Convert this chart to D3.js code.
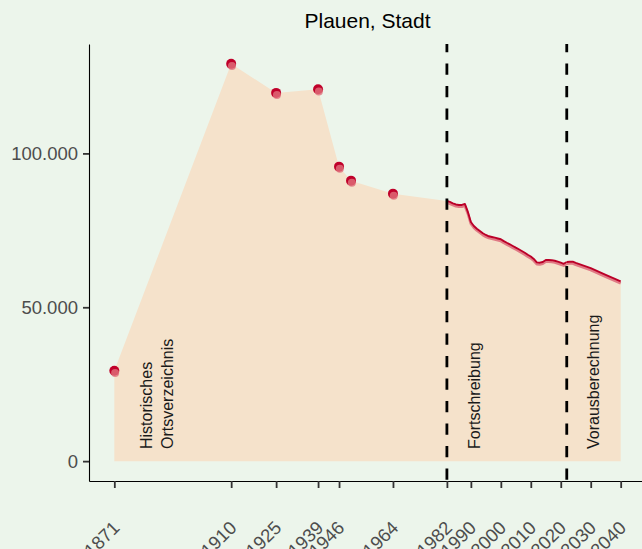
<!DOCTYPE html>
<html>
<head>
<meta charset="utf-8">
<script src="https://cdn.jsdelivr.net/npm/d3@7"></script>
<style>
  html, body { margin: 0; padding: 0; background: #ecf5eb; }
  svg { display: block; font-family: "Liberation Sans", Arial, sans-serif; }
</style>
</head>
<body>
<svg id="chart" width="642" height="549"></svg>
<script>
// ---- data ----
const title = "Plauen, Stadt";
// historical census points (Historisches Ortsverzeichnis)
const histYears  = [1871, 1910, 1925, 1939, 1946, 1950, 1964];
const histValues = [29370, 129100, 119670, 120870, 95700, 91150, 86930];
// annual updates (Fortschreibung)
const fortYears = [1982,1983,1984,1985,1986,1987,1988,1989,1990,1991,1992,1993,1994,1995,1996,1997,1998,1999,2000,2001,2002,2003,2004,2005,2006,2007,2008,2009,2010,2011,2012,2013,2014,2015,2016,2017,2018,2019,2020,2021,2022];
const fortValues = [84550,84230,83800,83410,83250,83250,83580,80980,77720,76420,75540,74800,74050,73500,73070,72850,72620,72360,72100,71480,70960,70470,69920,69370,68850,68290,67710,67060,66500,65690,64590,64490,64720,65370,65370,65300,65110,64810,64490,64130,64720];
// projection (Vorausberechnung)
const projYears  = [2022, 2023, 2024, 2025, 2030, 2035, 2040];
const projValues = [64720, 64810, 64810, 64400, 62700, 60500, 58400];
// section breaks and labels
const breakYears = [1982, 2022];
const sectionLabels = [["Historisches", "Ortsverzeichnis"], ["Fortschreibung"], ["Vorausberechnung"]];
// axis ticks
const xTicks = [1871, 1910, 1925, 1939, 1946, 1964, 1982, 1990, 2000, 2010, 2020, 2030, 2040];
const yTicks = [0, 50000, 100000];

// ---- layout ----
const svg = d3.select("#chart");
const W = 642, H = 549;
const panel = { left: 89, right: 646, top: 44, bottom: 481 };

svg.append("rect").attr("width", W).attr("height", H).attr("fill", "#ecf5eb");

const xMin = 1871, xMax = 2040, xPad = (xMax - xMin) * 0.05;
const x = d3.scaleLinear().domain([xMin - xPad, xMax + xPad]).range([panel.left, panel.right]);
const yMax = d3.max(histValues), yPad = yMax * 0.05;
const y = d3.scaleLinear().domain([0 - yPad, yMax + yPad]).range([panel.bottom, panel.top]);

const hist = histYears.map((d, i) => ({ year: d, value: histValues[i] }));
const fort = fortYears.map((d, i) => ({ year: d, value: fortValues[i] }));
const proj = projYears.map((d, i) => ({ year: d, value: projValues[i] }));
const all = hist.concat(fort).concat(proj.slice(1));

// area
const area = d3.area().x(d => x(d.year)).y0(y(0)).y1(d => y(d.value));
svg.append("path").datum(all).attr("d", area).attr("fill", "#f5e2cb");

// lines (light shadow + dark)
const line = d3.line().x(d => x(d.year)).y(d => y(d.value));
[fort, proj].forEach(series => {
  svg.append("path").datum(series).attr("d", line)
    .attr("fill", "none").attr("stroke", "#e07a85").attr("stroke-width", 2.6)
    .attr("stroke-linejoin", "round").attr("transform", "translate(0,1.8)");
  svg.append("path").datum(series).attr("d", line)
    .attr("fill", "none").attr("stroke", "#bb0028").attr("stroke-width", 1.9)
    .attr("stroke-linejoin", "round");
});

// points
svg.append("g").selectAll("circle.dark").data(hist).join("circle")
  .attr("cx", d => x(d.year)).attr("cy", d => y(d.value)).attr("r", 5)
  .attr("fill", "#c0002a");
svg.append("g").selectAll("circle.light").data(hist).join("circle")
  .attr("cx", d => x(d.year) + 0.8).attr("cy", d => y(d.value) + 2.2).attr("r", 4)
  .attr("fill", "#e0707c").attr("opacity", 0.8);

// dashed break lines
svg.append("g").selectAll("line").data(breakYears).join("line")
  .attr("x1", d => x(d)).attr("x2", d => x(d))
  .attr("y1", panel.bottom).attr("y2", panel.top)
  .attr("stroke", "#000").attr("stroke-width", 2.8)
  .attr("stroke-dasharray", "11.25,11.25").attr("stroke-dashoffset", 21.2);

// section labels (rotated)
const labelAnchors = [
  { x: 152, lines: sectionLabels[0] },
  { x: 480, lines: sectionLabels[1] },
  { x: 599, lines: sectionLabels[2] }
];
labelAnchors.forEach(a => {
  a.lines.forEach((t, i) => {
    svg.append("text")
      .attr("transform", `translate(${a.x + i * 21},449) rotate(-90)`)
      .attr("font-size", 16).attr("fill", "#1a1a1a")
      .text(t);
  });
});

// axes
const de = d3.formatLocale({ decimal: ",", thousands: ".", grouping: [3], currency: ["", " €"] });
const yAxis = d3.axisLeft(y).tickValues(yTicks).tickFormat(de.format(",")).tickSize(6).tickSizeOuter(0).tickPadding(5);
const gy = svg.append("g").attr("transform", `translate(${panel.left},0)`).call(yAxis);
gy.select(".domain").attr("stroke", "#000").attr("stroke-width", 1.1);
gy.selectAll(".tick line").attr("stroke", "#333").attr("stroke-width", 1.8);
gy.selectAll(".tick text").attr("font-size", 18.5).attr("fill", "#4d4d4d")
  .attr("font-family", "Liberation Sans, Arial, sans-serif");

const xAxis = d3.axisBottom(x).tickValues(xTicks).tickFormat(d3.format("d")).tickSize(7).tickSizeOuter(0);
const gx = svg.append("g").attr("transform", `translate(0,${panel.bottom})`).call(xAxis);
gx.select(".domain").attr("stroke", "#000").attr("stroke-width", 1.1);
gx.selectAll(".tick line").attr("stroke", "#333").attr("stroke-width", 1.8);
gx.selectAll(".tick text")
  .attr("font-size", 18.5).attr("fill", "#4d4d4d")
  .attr("font-family", "Liberation Sans, Arial, sans-serif")
  .attr("text-anchor", "end").attr("dy", null).attr("y", null)
  .attr("transform", "translate(6,48) rotate(-45)");

// title
svg.append("text").attr("x", (panel.left + panel.right) / 2).attr("y", 27.5)
  .attr("text-anchor", "middle").attr("font-size", 21).attr("fill", "#000")
  .text(title);
</script>
</body>
</html>
